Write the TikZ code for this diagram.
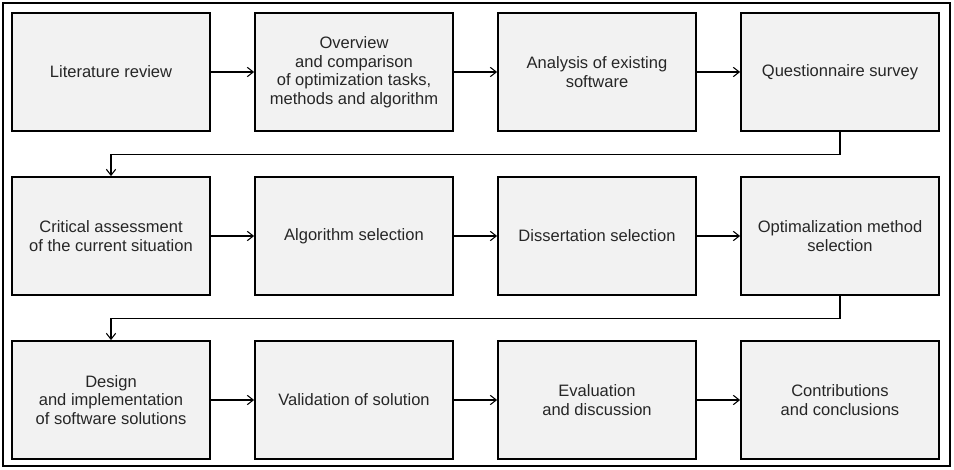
\documentclass[tikz,border=0pt]{standalone}
\usepackage{fontspec}
\setmainfont{Liberation Sans}
\usepackage{tikz}
\usetikzlibrary{positioning, arrows.meta}

\begin{document}
\begin{tikzpicture}[x=0.75pt, y=-0.75pt,
    stagebox/.style={draw=black, line width=1.3pt, fill=black!5, text=black!85,
        minimum width=148.5pt, minimum height=88.5pt, align=center,
        font=\fontsize{12.4}{13.9}\selectfont, inner sep=2pt},
    flow/.style={line width=0.8pt, -{Straight Barb[length=4.5pt, width=7pt]}}]
    \useasboundingbox (0,0) rectangle (954,470);
    \draw[line width=1pt] (3,3) rectangle (950,466);

    % Row 1
    \node[stagebox] (lit) at (111,72) {Literature review};
    \node[stagebox] (over) at (354,72) {Overview\\and comparison\\of optimization tasks,\\methods and algorithm};
    \node[stagebox] (soft) at (597,72) {Analysis of existing\\software};
    \node[stagebox] (quest) at (840,72) {Questionnaire survey};

    % Row 2
    \node[stagebox] (crit) at (111,236) {Critical assessment\\of the current situation};
    \node[stagebox] (alg) at (354,236) {Algorithm selection};
    \node[stagebox] (diss) at (597,236) {Dissertation selection};
    \node[stagebox] (meth) at (840,236) {Optimalization method\\selection};

    % Row 3
    \node[stagebox] (design) at (111,400) {Design\\and implementation\\of software solutions};
    \node[stagebox] (valid) at (354,400) {Validation of solution};
    \node[stagebox] (eval) at (597,400) {Evaluation\\and discussion};
    \node[stagebox] (contr) at (840,400) {Contributions\\and conclusions};

    % Arrows
    \draw[flow] (lit) -- (over);
    \draw[flow] (over) -- (soft);
    \draw[flow] (soft) -- (quest);
    \draw[flow] (quest.south) -- ++(0,23) -| (crit.north);
    \draw[flow] (crit) -- (alg);
    \draw[flow] (alg) -- (diss);
    \draw[flow] (diss) -- (meth);
    \draw[flow] (meth.south) -- ++(0,23) -| (design.north);
    \draw[flow] (design) -- (valid);
    \draw[flow] (valid) -- (eval);
    \draw[flow] (eval) -- (contr);
\end{tikzpicture}
\end{document}
